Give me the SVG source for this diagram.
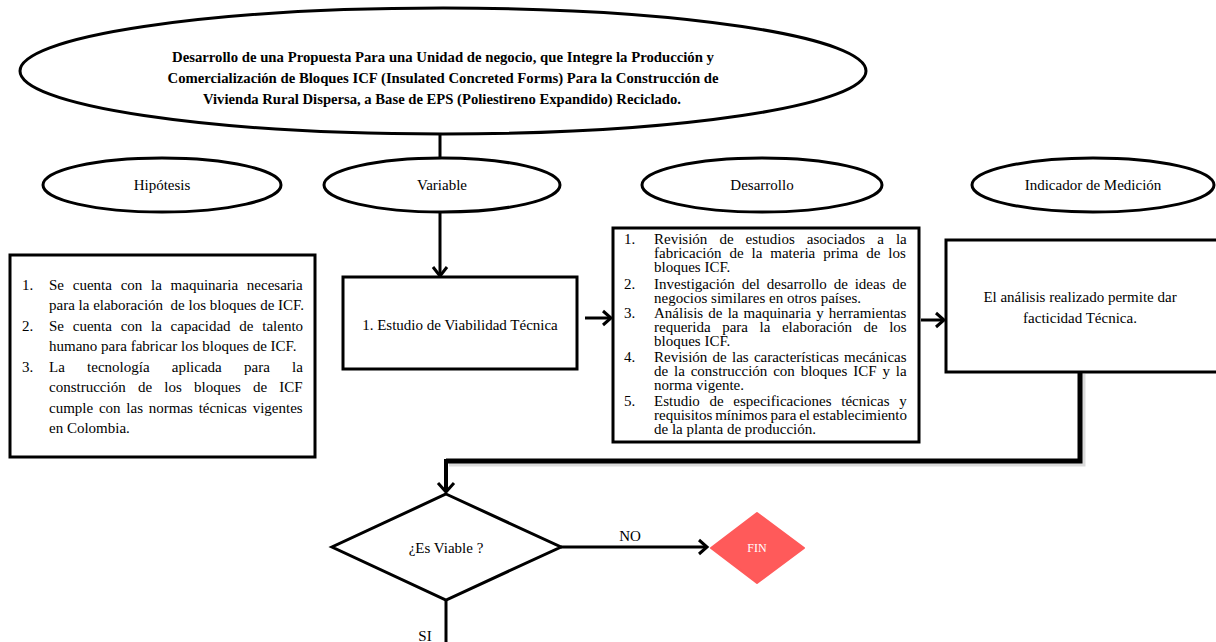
<svg xmlns="http://www.w3.org/2000/svg" width="1216" height="642" viewBox="0 0 1216 642">
<style>
text{font-family:"Liberation Serif","Times New Roman",serif;fill:#000}
.lbl{font-size:15px;text-anchor:middle}
.title{font-size:15px;font-weight:bold;text-anchor:middle}
.shape{fill:#fff;stroke:#000;stroke-width:3}
.body{font-size:15px}
.dev{font-size:15px}
.conn{fill:none;stroke:#000;stroke-width:3}
.thick{fill:none;stroke:#000;stroke-width:5}
.head{fill:none;stroke:#000;stroke-width:3}
</style>
<g id="connectors">
<line class="conn" x1="440" y1="135" x2="440" y2="159"/>
<line class="conn" x1="440" y1="212" x2="440" y2="275"/>
<line class="conn" x1="585" y1="318" x2="610" y2="318"/>
<line class="conn" x1="921" y1="320" x2="943" y2="320"/>
<path d="M1083,374 V464 H449" fill="none" stroke="#999" stroke-width="5" opacity="0.35"/>
<path class="thick" d="M1080,372 V461 H446"/>
<line x1="446" y1="459" x2="446" y2="492" stroke="#000" stroke-width="4"/>
<line class="conn" x1="561" y1="547" x2="706" y2="547"/>
<line class="conn" x1="446" y1="600" x2="446" y2="642"/>
<path class="head" d="M433,267 L440,276 L447,267"/>
<path class="head" d="M603,311 L611,318 L603,325"/>
<path class="head" d="M936,313 L944,320 L936,327"/>
<path class="head" d="M438,483 L446,492 L454,483"/>
<path class="head" d="M699,540 L707,547 L699,554"/>
<text x="630" y="541" style="font-size:15px" text-anchor="middle">NO</text>
<text x="425" y="641" style="font-size:15px" text-anchor="middle">SI</text>
</g>
<g id="title">
<ellipse class="shape" cx="443" cy="71" rx="423" ry="63"/>
<text class="title" x="443" y="62" textLength="542" lengthAdjust="spacingAndGlyphs">Desarrollo de una Propuesta Para una Unidad de negocio, que Integre la Producción y</text>
<text class="title" x="443" y="83" textLength="551" lengthAdjust="spacingAndGlyphs">Comercialización de Bloques ICF (Insulated Concreted Forms) Para la Construcción de</text>
<text class="title" x="442" y="104" textLength="478" lengthAdjust="spacingAndGlyphs">Vivienda Rural Dispersa, a Base de EPS (Poliestireno Expandido) Reciclado.</text>
</g>
<g id="hipotesis">
<ellipse class="shape" cx="162" cy="185" rx="119" ry="27"/>
<text class="lbl" x="162" y="190">Hipótesis</text>
</g>
<g id="variable">
<ellipse class="shape" cx="442" cy="185" rx="118" ry="27"/>
<text class="lbl" x="442" y="190">Variable</text>
</g>
<g id="desarrollo">
<ellipse class="shape" cx="762" cy="185" rx="120" ry="27"/>
<text class="lbl" x="762" y="190">Desarrollo</text>
</g>
<g id="indicador">
<ellipse class="shape" cx="1093" cy="185" rx="121" ry="27"/>
<text class="lbl" x="1093" y="190">Indicador de Medición</text>
</g>
<g id="hipotesis-box">
<rect class="shape" x="10" y="255" width="305" height="202"/>
<g class="body">
<text x="22" y="290">1.</text>
<text x="49" y="290" word-spacing="5">Se cuenta con la maquinaria necesaria</text>
<text x="49" y="310" xml:space="preserve">para la elaboración  de los bloques de ICF.</text>
<text x="22" y="331">2.</text>
<text x="49" y="331" word-spacing="5">Se cuenta con la capacidad de talento</text>
<text x="49" y="351">humano para fabricar los bloques de ICF.</text>
<text x="22" y="372">3.</text>
<text x="49" y="372" word-spacing="18.5">La tecnología aplicada para la</text>
<text x="49" y="392" word-spacing="8.5">construcción de los bloques de ICF</text>
<text x="49" y="413" word-spacing="2">cumple con las normas técnicas vigentes</text>
<text x="49" y="433">en Colombia.</text>
</g>
</g>
<g id="estudio">
<rect class="shape" x="343" y="277" width="234" height="92"/>
<text class="lbl" x="460" y="330">1. Estudio de Viabilidad Técnica</text>
</g>
<g id="desarrollo-box">
<rect class="shape" x="613" y="228" width="306" height="214"/>
<g class="dev">
<text x="624" y="244">1.</text>
<text x="654" y="244" word-spacing="8.3">Revisión de estudios asociados a la</text>
<text x="654" y="258" word-spacing="4.2">fabricación de la materia prima de los</text>
<text x="654" y="272">bloques ICF.</text>
<text x="624" y="289">2.</text>
<text x="654" y="289" word-spacing="3.1">Investigación del desarrollo de ideas de</text>
<text x="654" y="303">negocios similares en otros países.</text>
<text x="624" y="318">3.</text>
<text x="654" y="318" word-spacing="1.4">Análisis de la maquinaria y herramientas</text>
<text x="654" y="332" word-spacing="7.8">requerida para la elaboración de los</text>
<text x="654" y="346">bloques ICF.</text>
<text x="624" y="362">4.</text>
<text x="654" y="362" word-spacing="1.5">Revisión de las características mecánicas</text>
<text x="654" y="376" word-spacing="2.1">de la construcción con bloques ICF y la</text>
<text x="654" y="390">norma vigente.</text>
<text x="624" y="406">5.</text>
<text x="654" y="406" word-spacing="5.9">Estudio de especificaciones técnicas y</text>
<text x="654" y="420" word-spacing="-0.9">requisitos mínimos para el establecimiento</text>
<text x="654" y="434">de la planta de producción.</text>
</g>
</g>
<g id="indicador-box">
<rect class="shape" x="946" y="240" width="274" height="132"/>
<text class="lbl" x="1080" y="302">El análisis realizado permite dar</text>
<text class="lbl" x="1080" y="323">facticidad Técnica.</text>
</g>
<g id="viable">
<polygon class="shape" points="446,494 561,547 446,600 332,547"/>
<text class="lbl" x="446" y="553">¿Es Viable ?</text>
</g>
<g id="fin">
<polygon points="757,513 804,548 757,583 711,548" fill="#ff5a5a" stroke="#ff5a5a" stroke-width="2" stroke-linejoin="round"/>
<text x="757" y="552" style="font-size:12px;fill:#fff" text-anchor="middle">FIN</text>
</g>
</svg>
